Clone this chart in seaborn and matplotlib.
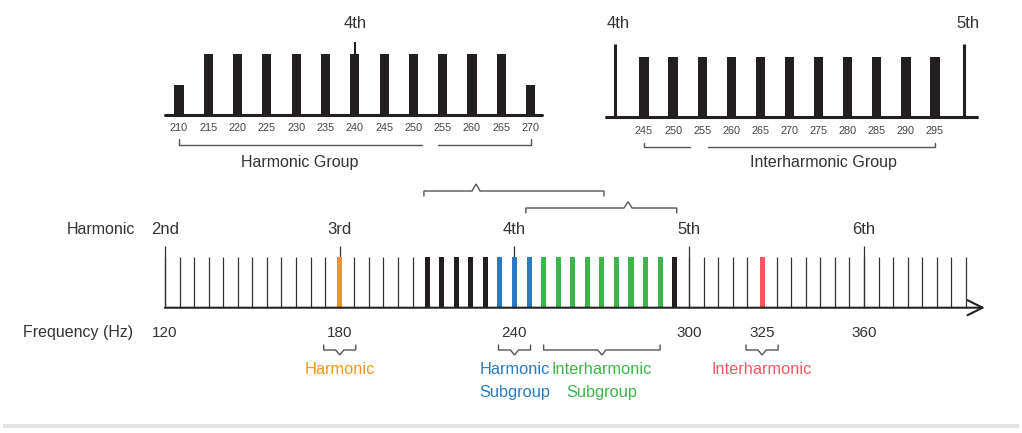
import matplotlib
matplotlib.use("Agg")
import matplotlib.pyplot as plt
from matplotlib.patches import ConnectionPatch
import seaborn as sns

# --- data ---
FREQS = [120, 125, 130, 135, 140, 145, 150, 155, 160, 165, 170, 175,
         180, 185, 190, 195, 200, 205, 210, 215, 220, 225, 230, 235,
         240, 245, 250, 255, 260, 265, 270, 275, 280, 285, 290, 295,
         300, 305, 310, 315, 320, 325, 330, 335, 340, 345, 350, 355,
         360, 365, 370, 375, 380, 385, 390, 395]
HARMONIC_FREQS = [120, 180, 240, 300, 360]
HARMONIC_NAMES = ["2nd", "3rd", "4th", "5th", "6th"]
FREQ_LABELS = [120, 180, 240, 300, 325, 360]

EDGE_FREQS = [210, 215, 220, 225, 230, 295]
HARM_SUB_FREQS = [235, 240, 245]
INTERH_SUB_FREQS = [250, 255, 260, 265, 270, 275, 280, 285, 290]
HARMONIC_FREQ = [180]
INTERHARMONIC_FREQ = [325]

# zoomed panels
HG_FREQS = [210, 215, 220, 225, 230, 235, 240, 245, 250, 255, 260, 265, 270]
HG_LEVELS = [0.5, 1, 1, 1, 1, 1, 1, 1, 1, 1, 1, 1, 0.5]
IG_FREQS = [245, 250, 255, 260, 265, 270, 275, 280, 285, 290, 295]
IG_LEVELS = [1, 1, 1, 1, 1, 1, 1, 1, 1, 1, 1]
IG_BOUNDS = [240, 300]
IG_BOUND_NAMES = ["4th", "5th"]

# bottom annotations: (low, high, notch, text, colour key)
SUB_BRACKETS = [
    (174.5, 185.5, 180, "Harmonic", "orange"),
    (234.5, 245.5, 240, "Harmonic\nSubgroup", "blue"),
    (250, 290, 270, "Interharmonic\nSubgroup", "green"),
    (319.5, 330.5, 325, "Interharmonic", "red"),
]

COLORS = {"orange": "#F7941D", "blue": "#2A7BC1", "green": "#3DB54A",
          "red": "#EE5A5F", "black": "#231F20"}
TXT = "#333333"
LINE = "#555555"

sns.set_theme(style="white")
plt.rcParams["font.family"] = ["Liberation Sans", "DejaVu Sans"]

W, H = 1022, 433
fig = plt.figure(figsize=(W / 100, H / 100), dpi=100)
fig.patch.set_facecolor("white")

# --- main frequency axis (y = pixels above baseline) ---
ax = fig.add_axes([0, 0, 1, 1])
ax.set_xlim(63.35, 414.25)
ax.set_ylim(-125.3, 307.7)
ax.axis("off")

LINE_H, HARM_H = 50.7, 62.0
thick = EDGE_FREQS + HARM_SUB_FREQS + INTERH_SUB_FREQS + HARMONIC_FREQ + INTERHARMONIC_FREQ
thin = [f for f in FREQS if f not in thick]
ax.vlines(thin, 0, LINE_H, color="#333333", lw=0.9)
ax.vlines(HARMONIC_FREQS, 0, HARM_H, color="#333333", lw=0.9)

groups = [(EDGE_FREQS, "black"), (HARM_SUB_FREQS, "blue"),
          (INTERH_SUB_FREQS, "green"), (HARMONIC_FREQ, "orange"),
          (INTERHARMONIC_FREQ, "red")]
for fr, key in groups:
    ax.bar(fr, LINE_H, width=1.75, bottom=0, color=COLORS[key], lw=0, zorder=3)

ax.annotate("", xy=(401.5, 0), xytext=(120, 0),
            arrowprops=dict(arrowstyle="->,head_length=0.9,head_width=0.45",
                            color="#222222", lw=1.5, shrinkA=0, shrinkB=0))

for f, name in zip(HARMONIC_FREQS, HARMONIC_NAMES):
    ax.text(f, 77.7, name, ha="center", va="center", fontsize=12, color=TXT)
for f in FREQ_LABELS:
    ax.text(f, -25, str(f), ha="center", va="center", fontsize=11, color=TXT)
ax.text(109.7, 77.7, "Harmonic", ha="right", va="center", fontsize=11.5, color=TXT)
ax.text(109.0, -25, "Frequency (Hz)", ha="right", va="center", fontsize=11.5, color=TXT)


def bracket(a, lo, hi, y, leg, notch_x=None, notch=0.0, dx=1.4):
    xs = [lo, lo]
    ys = [y + leg, y]
    if notch_x is not None:
        xs += [notch_x - dx, notch_x, notch_x + dx]
        ys += [y, y + notch, y]
    xs += [hi, hi]
    ys += [y, y + leg]
    a.plot(xs, ys, color=LINE, lw=1.0, clip_on=False, solid_joinstyle="miter")


for lo, hi, nx, label, key in SUB_BRACKETS:
    bracket(ax, lo, hi, -42.3, 5, nx, -5)
    for i, part in enumerate(label.split("\n")):
        ax.text(nx, -62.3 - 23 * i, part, ha="center", va="center",
                fontsize=11.8, color=COLORS[key])

# group brackets above the axis
bracket(ax, 208.9, 270.7, 116.7, -5, 226.8, 7)
bracket(ax, 243.9, 295.7, 99.7, -5, 279.0, 6.3)

# --- harmonic group zoom ---
ax1 = fig.add_axes([165 / W, 318 / H, 377 / W, 80 / H])
sns.barplot(x=HG_FREQS, y=[v * 61 for v in HG_LEVELS], native_scale=True,
            width=0.31, color=COLORS["black"], saturation=1, errorbar=None,
            linewidth=0, ax=ax1)
ax1.set_xlim(207.61, 271.95)
ax1.set_ylim(0, 80)
ax1.axis("off")
ax1.axhline(0, color=COLORS["black"], lw=2.2, clip_on=False)
ax1.vlines([240], 61, 73, color=COLORS["black"], lw=1.5, clip_on=False)
ax1.text(240, 92, "4th", ha="center", va="center", fontsize=12, color=TXT)
for f in HG_FREQS:
    ax1.text(f, -13, str(f), ha="center", va="center", fontsize=7.8, color="#444444")
ax1.plot([210, 210, 251.4], [-24, -30, -30], color=LINE, lw=1.0, clip_on=False)
ax1.plot([254.2, 270, 270], [-30, -30, -24], color=LINE, lw=1.0, clip_on=False)
ax1.text(230.6, -48, "Harmonic Group", ha="center", va="center", fontsize=11.5, color=TXT)

# --- interharmonic group zoom ---
ax2 = fig.add_axes([606 / W, 316 / H, 371 / W, 80 / H])
sns.barplot(x=IG_FREQS, y=[v * 60 for v in IG_LEVELS], native_scale=True,
            width=0.32, color=COLORS["black"], saturation=1, errorbar=None,
            linewidth=0, ax=ax2)
ax2.set_xlim(238.47, 302.21)
ax2.set_ylim(0, 80)
ax2.axis("off")
ax2.axhline(0, color=COLORS["black"], lw=2.2, clip_on=False)
ax2.vlines(IG_BOUNDS, 0, 73, color=COLORS["black"], lw=2.2, clip_on=False)
for f, name in zip(IG_BOUNDS, IG_BOUND_NAMES):
    ax2.text(f + 0.6, 94, name, ha="center", va="center", fontsize=12, color=TXT)
for f in IG_FREQS:
    ax2.text(f, -14, str(f), ha="center", va="center", fontsize=7.8, color="#444444")
ax2.plot([245, 245, 252.9], [-26, -30, -30], color=LINE, lw=1.0, clip_on=False)
ax2.plot([256.0, 295, 295], [-30, -30, -26], color=LINE, lw=1.0, clip_on=False)
ax2.text(275.8, -46, "Interharmonic Group", ha="center", va="center", fontsize=11.5, color=TXT)

# connectors from zoom brackets down to the group brackets
for src, gx, tx, ty in [(ax1, 251.4, 226.8, 129.7), (ax1, 254.2, 226.8, 129.7),
                        (ax2, 252.9, 279.6, 112.7), (ax2, 256.0, 279.6, 112.7)]:
    con = ConnectionPatch(xyA=(gx, -30), coordsA="data", axesA=src,
                          xyB=(tx, ty), coordsB="data", axesB=ax,
                          color=LINE, lw=1.0)
    fig.add_artist(con)

# light rule at the bottom
ax.plot([3 / W, 1019 / W], [7 / H, 7 / H], transform=ax.transAxes,
        color="#e4e4e4", lw=3, solid_capstyle="butt")

fig.savefig("out.png", dpi=100, facecolor="white")
